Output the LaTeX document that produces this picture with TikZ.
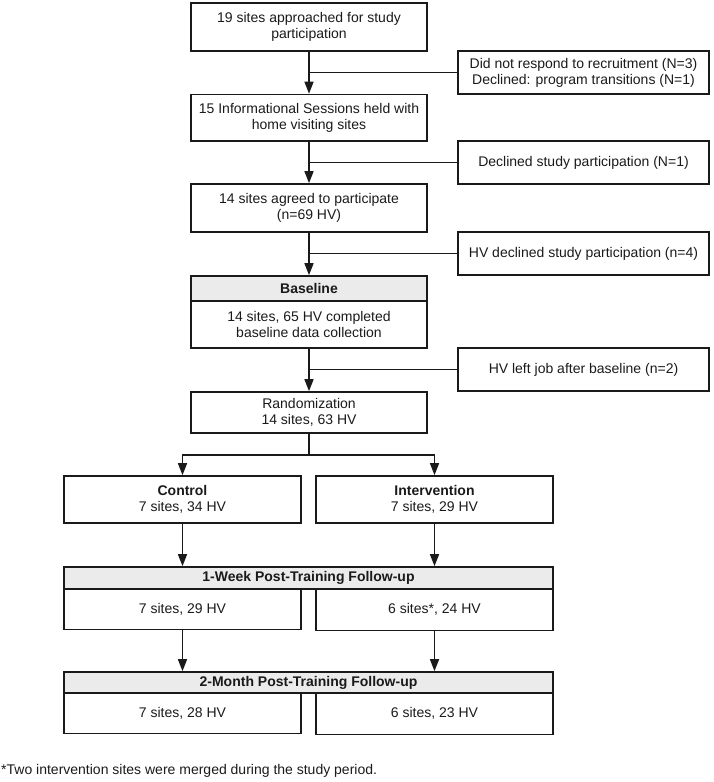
\documentclass[tikz,border=0pt]{standalone}
\usepackage{fontspec}
\setmainfont{Liberation Sans}
\usetikzlibrary{arrows.meta}
\definecolor{ink}{HTML}{1A1A1A}
\definecolor{hdr}{HTML}{EBEBEB}
\begin{document}
\begin{tikzpicture}[x=1pt,y=-1pt,
  box/.style={draw=ink,line width=1.7pt,rectangle,inner sep=0pt,align=center,
    font=\fontsize{14}{16}\selectfont,text=ink},
  mainbox/.style={box,minimum width=236pt},
  sidebox/.style={box,minimum width=251pt,minimum height=43pt},
  half/.style={box,minimum width=237pt},
  head/.style={box,fill=hdr,font=\bfseries\fontsize{14}{16}\selectfont},
  link/.style={draw=ink,line width=1.6pt},
  arr/.style={link,-{Triangle[width=9pt,length=12pt]}}]
\useasboundingbox (0,0) rectangle (714,782);

% main column
\node[mainbox,minimum height=48pt] (b1) at (309,27) {19 sites approached for study\\participation};
\node[mainbox,minimum height=46.5pt] (b2) at (309,117.75) {15 Informational Sessions held with\\home visiting sites};
\node[mainbox,minimum height=48pt] (b3) at (309,208) {14 sites agreed to participate\\(n=69 HV)};
\node[mainbox,head,minimum height=25pt] (bh) at (309,288.5) {Baseline};
\node[mainbox,minimum height=47pt] (bb) at (309,324.5) {14 sites, 65 HV completed\\baseline data collection};
\node[mainbox,minimum height=41pt] (rand) at (309,412.5) {Randomization\\14 sites, 63 HV};

% side boxes
\node[sidebox] (s1) at (583.5,72.5) {Did not respond to recruitment (N=3)\\Declined: program transitions (N=1)};
\node[sidebox] (s2) at (583.5,162.5) {Declined study participation (N=1)};
\node[sidebox] (s3) at (583.5,253.5) {HV declined study participation (n=4)};
\node[sidebox] (s4) at (583.5,369.5) {HV left job after baseline (n=2)};

% arms
\node[half,minimum height=47pt] (ctrl) at (182.5,499.5) {\textbf{Control}\\7 sites, 34 HV};
\node[half,minimum height=47pt] (intv) at (434.5,499.5) {\textbf{Intervention}\\7 sites, 29 HV};

% 1-week follow-up
\node[box,head,minimum width=489pt,minimum height=22pt] (wk) at (308.5,578) {1-Week Post-Training Follow-up};
\node[half,minimum height=40.5pt] (wkc) at (182.5,609.25) {7 sites, 29 HV};
\node[half,minimum height=41.5pt] (wki) at (434.5,609.75) {6 sites*, 24 HV};

% 2-month follow-up
\node[box,head,minimum width=489pt,minimum height=21pt] (mo) at (308.5,682.5) {2-Month Post-Training Follow-up};
\node[half,minimum height=40.5pt] (moc) at (182.5,713.25) {7 sites, 28 HV};
\node[half,minimum height=41.5pt] (moi) at (434.5,713.75) {6 sites, 23 HV};

% footnote
\node[anchor=west,inner sep=0pt,text=ink,font=\fontsize{14}{16}\selectfont] (fn) at (1,771) {*Two intervention sites were merged during the study period.};

% connectors
\draw[arr] (b1.south) -- (b2.north);
\draw[link] (s1.west) -- (s1.west -| b1.south);
\draw[arr] (b2.south) -- (b3.north);
\draw[link] (s2.west) -- (s2.west -| b2.south);
\draw[arr] (b3.south) -- (bh.north);
\draw[link] (s3.west) -- (s3.west -| b3.south);
\draw[arr] (bb.south) -- (rand.north);
\draw[link] (s4.west) -- (s4.west -| bb.south);

\coordinate (split) at (309,455);
\draw[link] (rand.south) -- (split);
\draw[arr] (split) -| (ctrl.north);
\draw[arr] (split) -| (intv.north);

\draw[arr] (ctrl.south) -- (ctrl.south |- wk.north);
\draw[arr] (intv.south) -- (intv.south |- wk.north);
\draw[arr] (wkc.south) -- (wkc.south |- mo.north);
\draw[arr] (wki.south) -- (wki.south |- mo.north);
\end{tikzpicture}
\end{document}
